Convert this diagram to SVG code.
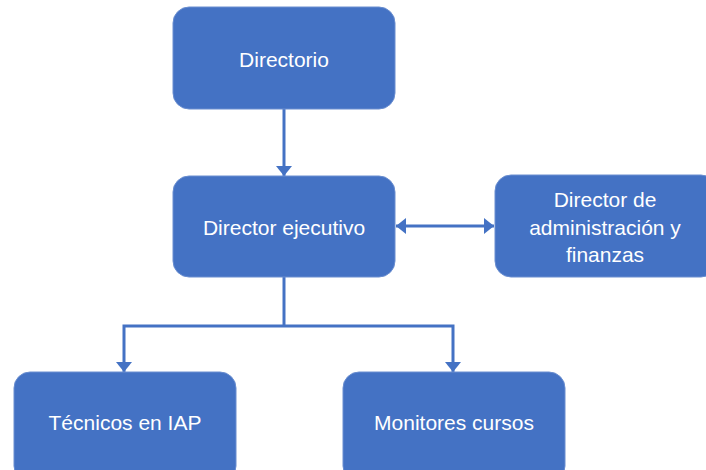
<svg xmlns="http://www.w3.org/2000/svg" width="706" height="470" viewBox="0 0 706 470">
<defs>
<style>
.box{fill:#4472C4;stroke:#6A8ED0;stroke-width:1}
.lbl{fill:#ffffff;font-family:"Liberation Sans",Arial,sans-serif;font-size:21px;text-anchor:middle}
.conn{fill:none;stroke:#4472C4;stroke-width:3}
</style>
<marker id="ah" viewBox="0 0 10 16" refX="10" refY="8" markerWidth="10" markerHeight="16" markerUnits="userSpaceOnUse" orient="auto-start-reverse">
<path d="M0,0 L10,8 L0,16 Z" fill="#4472C4"/>
</marker>
</defs>
<rect width="706" height="470" fill="#ffffff"/>
<g id="connectors">
<line class="conn" x1="284" y1="109" x2="284" y2="176" marker-end="url(#ah)"/>
<line class="conn" x1="396" y1="226" x2="494" y2="226" marker-start="url(#ah)" marker-end="url(#ah)"/>
<polyline class="conn" points="284,277 284,326"/>
<polyline class="conn" points="124,372 124,326 453,326 453,372" marker-start="url(#ah)" marker-end="url(#ah)"/>
</g>
<g id="directorio">
<rect class="box" x="173" y="7" width="222" height="102" rx="16"/>
<text class="lbl" x="284" y="67">Directorio</text>
</g>
<g id="director-ejecutivo">
<rect class="box" x="173" y="176" width="222" height="101" rx="16"/>
<text class="lbl" x="284" y="235">Director ejecutivo</text>
</g>
<g id="director-admin">
<rect class="box" x="495" y="175" width="222" height="102" rx="16"/>
<text class="lbl" x="605" y="207">Director de</text>
<text class="lbl" x="605" y="235">administración y</text>
<text class="lbl" x="605" y="262">finanzas</text>
</g>
<g id="tecnicos">
<rect class="box" x="14" y="372" width="222" height="110" rx="16"/>
<text class="lbl" x="125" y="430">Técnicos en IAP</text>
</g>
<g id="monitores">
<rect class="box" x="343" y="372" width="222" height="110" rx="16"/>
<text class="lbl" x="454" y="430">Monitores cursos</text>
</g>
</svg>
